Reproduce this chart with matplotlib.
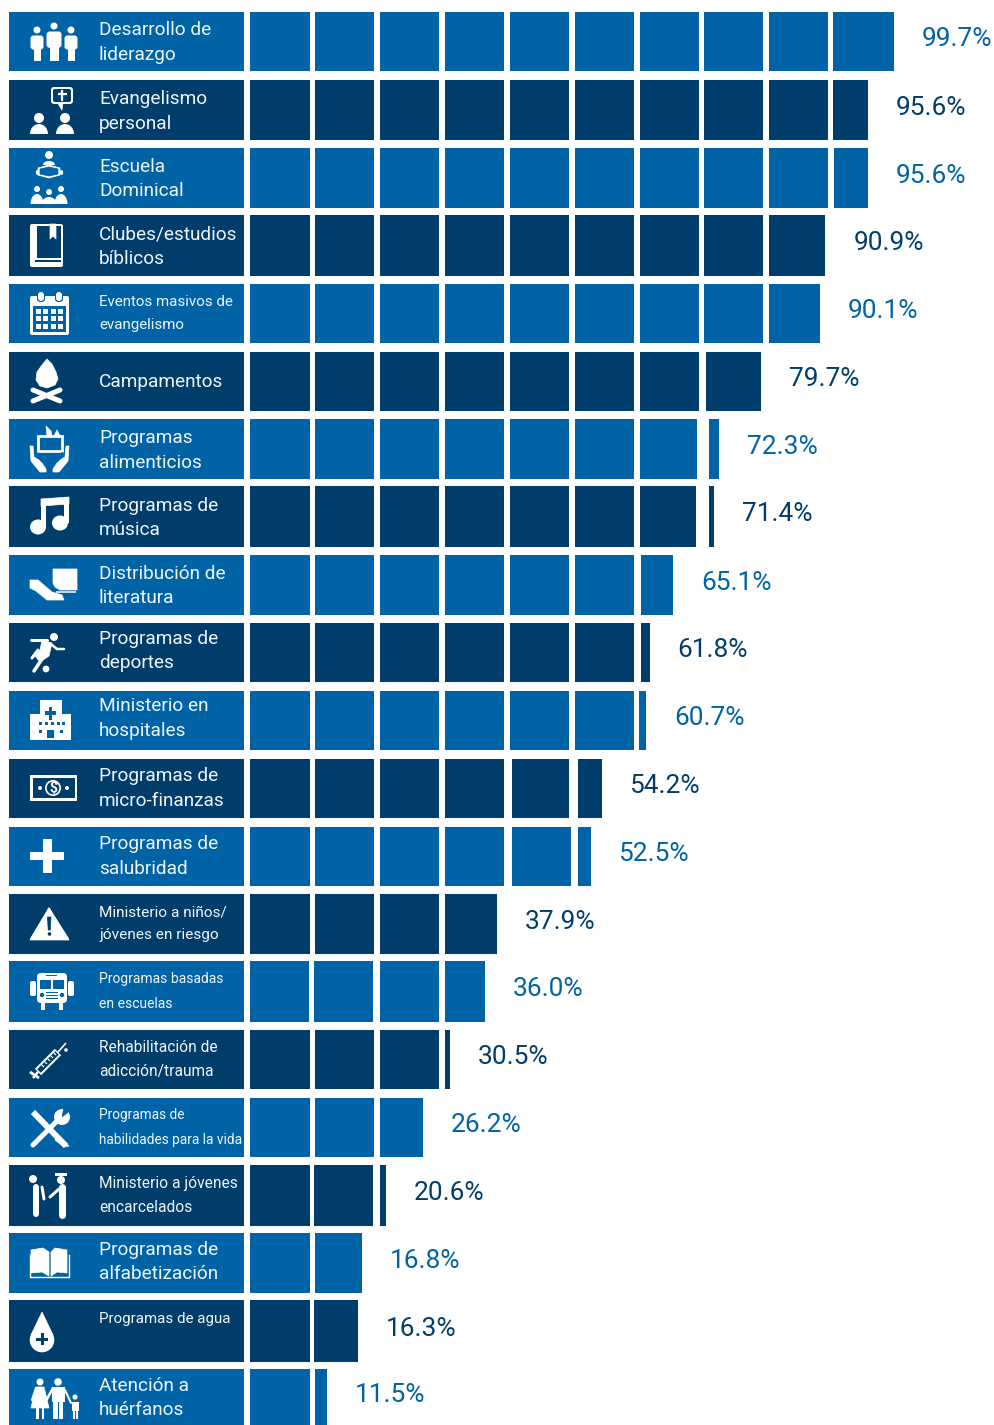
import numpy as np
import matplotlib
matplotlib.use('Agg')
import matplotlib.pyplot as plt
from matplotlib.patches import Rectangle, Circle, Polygon, Ellipse, Wedge, FancyBboxPatch
from matplotlib.transforms import Affine2D

BLUE = '#0063a6'
NAVY = '#003d6b'
WHITE = '#ffffff'
TXT = '#eef4f9'

labels = ['Desarrollo de\nliderazgo', 'Evangelismo\npersonal', 'Escuela\nDominical',
          'Clubes/estudios\nbíblicos', 'Eventos masivos de\nevangelismo', 'Campamentos',
          'Programas\nalimenticios', 'Programas de\nmúsica', 'Distribución de\nliteratura',
          'Programas de\ndeportes', 'Ministerio en\nhospitales', 'Programas de\nmicro-finanzas',
          'Programas de\nsalubridad', 'Ministerio a niños/\njóvenes en riesgo',
          'Programas basadas\nen escuelas', 'Rehabilitación de\nadicción/trauma',
          'Programas de\nhabilidades para la vida', 'Ministerio a jóvenes\nencarcelados',
          'Programas de\nalfabetización', 'Programas de agua', 'Atención a\nhuérfanos']
value_text = ['99.7%', '95.6%', '95.6%', '90.9%', '90.1%', '79.7%', '72.3%', '71.4%', '65.1%',
              '61.8%', '60.7%', '54.2%', '52.5%', '37.9%', '36.0%', '30.5%', '26.2%', '20.6%',
              '16.8%', '16.3%', '11.5%']
# length of each bar as drawn in the picture (a few rows differ from their printed label)
bar_length = [99.7, 95.6, 95.6, 89.0, 88.2, 79.0, 72.5, 71.7, 65.3, 61.7, 61.1, 54.3, 52.6,
              37.9, 36.1, 30.6, 26.4, 20.7, 16.95, 16.3, 11.5]

row_top = [12, 80, 148, 215, 284, 352, 419, 486, 555, 623, 691, 759, 827, 894, 961, 1030, 1098, 1165, 1233, 1300, 1369]
row_bot = [71, 140, 208, 276, 343, 411, 479, 547, 615, 682, 750, 818, 886, 954, 1022, 1089, 1157, 1226, 1293, 1362, 1425]

# px layout of the ten blocks, with the rows where the artwork shifts them
block_start = [250, 315, 380, 445, 510, 575, 640, 704, 769, 833]
block_end = [310, 374, 439, 504, 569, 634, 699, 763, 828, 894]
shift_start = {(2, 9): 834, (5, 7): 706, (6, 7): 709, (7, 7): 709, (8, 6): 641, (9, 6): 641,
               (10, 6): 639, (11, 4): 512, (11, 5): 578, (12, 4): 512, (12, 5): 578,
               (14, 1): 314, (17, 1): 314, (19, 1): 314}
shift_end = {(6, 6): 697, (7, 6): 696, (12, 4): 571, (14, 0): 309, (14, 1): 373, (17, 1): 373}

ZERO_PX, PX_PER_PCT = 253, 6.43


def to_pct(px):
    return (px - ZERO_PX) / PX_PER_PCT


fig = plt.figure(figsize=(9.95, 14.25), dpi=100)
ax = fig.add_axes([0, 0, 1, 1])
ax.set_xlim(to_pct(0), to_pct(995))
ax.set_ylim(1425, 0)
ax.axis('off')

ly = fig.add_axes([0, 0, 1, 1])
ly.set_xlim(0, 995)
ly.set_ylim(1425, 0)
ly.axis('off')
ly.patch.set_alpha(0)


def rect(x0, y0, x1, y1, c=WHITE):
    ly.add_patch(Rectangle((x0, y0), x1 - x0, y1 - y0, fc=c, ec='none'))


def rbox(x0, y0, x1, y1, c=WHITE, r=2):
    ly.add_patch(FancyBboxPatch((x0 + r, y0 + r), x1 - x0 - 2 * r, y1 - y0 - 2 * r,
                                boxstyle=f'round,pad={r},rounding_size={r}', fc=c, ec='none'))


def box(x0, y0, x1, y1, lw=2):
    ly.add_patch(Rectangle((x0, y0), x1 - x0, y1 - y0, fc='none', ec=WHITE, lw=lw))


def circ(x, y, r, c=WHITE):
    ly.add_patch(Circle((x, y), r, fc=c, ec='none'))


def poly(pts, c=WHITE):
    ly.add_patch(Polygon(pts, closed=True, fc=c, ec=c, lw=0.5, joinstyle='round'))


def seg(x0, y0, x1, y1, w=3, c=WHITE, cap='round'):
    ly.plot([x0, x1], [y0, y1], color=c, lw=w * 0.72, solid_capstyle=cap)


def bust(x, y, w, h):
    # half ellipse shoulders, base at y
    ly.add_patch(Wedge((0, 0), 1, 180, 360, fc=WHITE, ec='none',
                       transform=Affine2D().scale(w / 2, h).translate(x, y) + ly.transData))


def person(x, top, w, bottom, r):
    circ(x, top, r)
    s = top + r + 2
    rbox(x - w / 2, s, x + w / 2, s + (bottom - s) * 0.55, r=3)
    rect(x - w / 2 + 3, s + (bottom - s) * 0.4, x + w / 2 - 3, bottom)


def icon_leader():
    person(37, 30, 13, 61, 3.5)
    person(54, 26, 15, 61, 3.5)
    person(71, 30, 13, 61, 3.5)


def icon_evangelism():
    poly([(57, 102), (63, 102), (62, 110)])
    rbox(51, 87, 73, 104, r=3)
    rbox(53, 89, 71, 102, NAVY, r=2)
    seg(62, 90, 62, 101, 2.2, cap='butt')
    seg(57.5, 94, 66.5, 94, 2.2, cap='butt')
    circ(39, 118, 5)
    circ(65, 118, 5)
    bust(39, 134, 18, 10)
    bust(65, 134, 18, 10)


def icon_school():
    circ(49, 155, 4)
    bust(49, 165, 12, 4)
    poly([(38, 168), (49, 165), (60, 168), (60, 175), (49, 178), (38, 175)])
    poly([(40, 169), (49, 167), (58, 169), (58, 174), (49, 176), (40, 174)], BLUE)
    seg(37, 171, 37, 173, 3)
    seg(61, 171, 61, 173, 3)
    for x, h in ((37, 189), (49, 192), (61, 189)):
        circ(x, h, 3)
    bust(37, 204, 13, 10)
    bust(61, 204, 13, 10)
    bust(49, 204, 15, 7)


def icon_book():
    rbox(30, 224, 63, 267, r=2)
    rect(37, 226, 61, 258, NAVY)
    rect(33, 226, 35, 258, WHITE)
    rect(35, 259.5, 61, 262, NAVY)
    rect(30, 226, 33, 262, WHITE)
    poly([(50, 224), (56, 224), (56, 239), (53, 236), (50, 239)])


def icon_calendar():
    rbox(30, 296, 69, 335, r=2)
    rect(33, 306, 66, 332, BLUE)
    for x in (41, 59):
        rbox(x - 4, 292, x + 4, 302, BLUE, r=3)
        rbox(x - 3, 292, x + 3, 301, WHITE, r=3)
    for i in range(4):
        for j in range(3):
            rect(36 + i * 7.3, 309 + j * 7.3, 41 + i * 7.3, 314 + j * 7.3)


def icon_fire():
    poly([(47, 359), (52, 364), (56, 372), (58, 379), (55, 385), (47, 388), (40, 386), (36, 380), (37, 372),
          (42, 365)])
    seg(33, 390, 60, 401, 5)
    seg(33, 401, 60, 390, 5)


def icon_food():
    box(38, 436, 62, 451, 2)
    poly([(46, 426), (51, 431), (52, 436), (47, 436)])
    poly([(54, 436), (57, 430), (60, 436)])
    cx = 49.5
    hand = [(-19.5, 446), (-16.5, 446), (-15.5, 457), (-9, 461), (-3.5, 469), (-3.5, 472), (-9.5, 472), (-18.5, 461)]
    poly([(cx + x, y) for x, y in hand])
    poly([(cx - x, y) for x, y in hand])
    for sx in (-1, 1):
        seg(cx + sx * 13, 453, cx + sx * 8, 461, 2, BLUE)


def icon_music():
    ly.add_patch(Ellipse((38, 527), 16, 15, fc=WHITE, ec='none'))
    ly.add_patch(Ellipse((60, 523), 16, 15, fc=WHITE, ec='none'))
    rect(41, 502, 46, 527)
    rect(64, 497, 69, 523)
    poly([(41, 499), (69, 497), (69, 504), (41, 506)])


def icon_literature():
    poly([(53, 569), (77, 569), (77, 590), (60, 590), (55, 587), (53, 583)])
    seg(56, 592, 76, 592, 1.5, cap='butt')
    poly([(30, 580), (38, 580), (52, 592), (62, 595), (64, 600), (47, 600), (36, 591), (30, 588)])


def icon_soccer():
    circ(54, 637, 4)
    seg(31, 640, 47, 640, 3)
    poly([(42, 640), (52, 643), (49, 656), (40, 662), (35, 656), (40, 650)])
    seg(52, 645, 57, 649, 2.5)
    seg(57, 649, 64, 649, 2.5)
    seg(44, 656, 34, 671, 3.5)
    seg(38, 650, 32, 658, 3)
    circ(46, 669, 3.4)


def icon_hospital():
    rect(30, 714, 71, 740)
    rect(40, 700, 62, 714)
    rect(49, 707, 52, 720, BLUE)
    rect(45, 711, 56, 714.5, BLUE)
    for x, y in ((39, 722), (45, 722), (51, 722), (57, 722), (62, 722), (39, 730), (60, 730)):
        rect(x, y, x + 3, y + 3, BLUE)
    rect(47, 730, 54, 738, BLUE)


def icon_money():
    rect(30, 775, 77, 801)
    rect(32.5, 778, 74.5, 798, NAVY)
    circ(53, 788, 8, WHITE)
    circ(53, 788, 6.3, NAVY)
    circ(40, 788, 2)
    circ(67, 788, 2)
    ly.text(53, 788, '$', color=WHITE, fontsize=10, fontweight='bold', ha='center', va='center', family='Roboto')


def icon_plus():
    rect(43, 839, 51.5, 873)
    rect(30, 852, 64, 860)


def icon_warning():
    poly([(49, 908), (69, 940), (30, 940)])
    ly.plot([49, 68, 31, 49], [909, 939, 939, 909], color=WHITE, lw=1.5, solid_joinstyle='round')
    poly([(47.5, 917), (51, 917), (50.3, 930), (48.2, 930)], NAVY)
    circ(49.5, 934, 1.8, NAVY)


def icon_bus():
    rbox(37, 973, 67, 1003, r=4)
    rbox(30, 981, 36, 996, r=2)
    rbox(68, 981, 74, 996, r=2)
    rect(40, 980, 51, 989, BLUE)
    rect(53, 980, 64, 989, BLUE)
    rect(46, 975, 57, 976, BLUE)
    for y in (992, 995, 998):
        rect(46, y, 58, y + 1.2, BLUE)
    circ(42, 995, 2.2, BLUE)
    circ(62, 995, 2.2, BLUE)
    rect(41, 1003, 45, 1010)
    rect(59, 1003, 63, 1010)


def icon_syringe():
    seg(38, 1072, 58, 1052, 9, cap='butt')
    seg(39, 1071, 57, 1053, 5, NAVY, cap='butt')
    for t in range(5):
        seg(41 + t * 3, 1064 - t * 3, 44 + t * 3, 1067 - t * 3, 1.2, cap='butt')
    seg(38, 1072, 33, 1078, 2.5, cap='butt')
    seg(30, 1072, 39, 1078, 2.8, cap='butt')
    seg(58, 1052, 66, 1043, 1.6, cap='butt')
    circ(66, 1050, 1.8)


def icon_tools():
    seg(33, 1112, 66, 1146, 6, cap='butt')
    seg(33, 1145, 60, 1118, 5)
    circ(62, 1117, 8)
    poly([(62, 1117), (72, 1109), (64, 1107)], BLUE)
    poly([(57, 1135), (69, 1146), (64, 1147), (55, 1140)])


def icon_prisoner():
    circ(33, 1179, 4)
    seg(36, 1187, 36, 1214, 6)
    seg(42, 1187, 44, 1199, 3)
    circ(61, 1180, 4)
    rect(55, 1173, 67, 1176)
    seg(62, 1187, 62, 1215, 7)
    seg(59, 1189, 50, 1197, 3)


def icon_openbook():
    poly([(31, 1250), (43, 1248), (49, 1252), (49, 1276), (42, 1272), (31, 1273)])
    poly([(67, 1250), (55, 1248), (51, 1252), (51, 1276), (57, 1272), (67, 1273)])
    ly.plot([30, 30, 69, 69], [1255, 1277, 1277, 1255], color=WHITE, lw=1)


def icon_drop():
    circ(42, 1340, 12.3)
    poly([(42, 1312), (31, 1335), (53, 1335)])
    rect(40.5, 1333, 43.5, 1345, NAVY)
    rect(36, 1337.5, 48, 1340.5, NAVY)


def icon_family():
    circ(40, 1382, 3.5)
    poly([(36, 1387), (44, 1387), (49, 1408), (31, 1408)])
    rect(36, 1408, 38.5, 1419)
    rect(41.5, 1408, 44, 1419)
    seg(36, 1388, 32, 1400, 2.2)
    circ(58, 1382, 3.8)
    rect(52, 1387, 65, 1402)
    rect(53, 1402, 57.5, 1419)
    rect(59, 1402, 63, 1419)
    seg(53, 1388, 47, 1399, 2.5)
    seg(65, 1390, 71, 1403, 2)
    circ(75, 1397, 2.6)
    rect(72, 1402, 79, 1411)
    rect(73, 1411, 75, 1419)
    rect(76, 1411, 78, 1419)


icons = [icon_leader, icon_evangelism, icon_school, icon_book, icon_calendar, icon_fire, icon_food, icon_music,
         icon_literature, icon_soccer, icon_hospital, icon_money, icon_plus, icon_warning, icon_bus, icon_syringe,
         icon_tools, icon_prisoner, icon_openbook, icon_drop, icon_family]

# font size of the rows set in a condensed face in the original, scaled to the same width
label_size = {4: 10.9, 13: 11.1, 14: 10.0, 15: 11.2, 16: 9.8, 17: 11.2, 19: 10.9}
text_shift = {0: 1, 1: 1.5, 2: 1, 3: 1, 5: 0, 6: 1.5, 7: 1.5, 8: 1, 9: -1.5, 10: -2, 18: -1, 19: -12, 20: 1}

for i, length in enumerate(bar_length):
    col = BLUE if i % 2 == 0 else NAVY
    top, bot = row_top[i], row_bot[i]
    mid = (top + bot) / 2
    for k in range(10):
        s = to_pct(shift_start.get((i, k), block_start[k]))
        e = to_pct(shift_end.get((i, k), block_end[k]))
        if s >= length:
            break
        ax.barh(mid, min(e, length) - s, left=s, height=bot - top, color=col, linewidth=0)
    ax.annotate(value_text[i], (length, mid), xytext=(28 * 0.72, 3 * 0.72 - 0.5), textcoords='offset points',
                color=col, fontsize=18.9, family='Roboto', va='center', ha='left')

    rect(9, top, 244, bot, col)
    icons[i]()
    size = label_size.get(i, 13.7)
    ly.text(99, mid + text_shift.get(i, 0), labels[i], color=TXT, family='Roboto', fontsize=size,
            va='center', ha='left', linespacing=24.5 / (1.22 * size))

fig.savefig('out.png', dpi=100, facecolor='white')
